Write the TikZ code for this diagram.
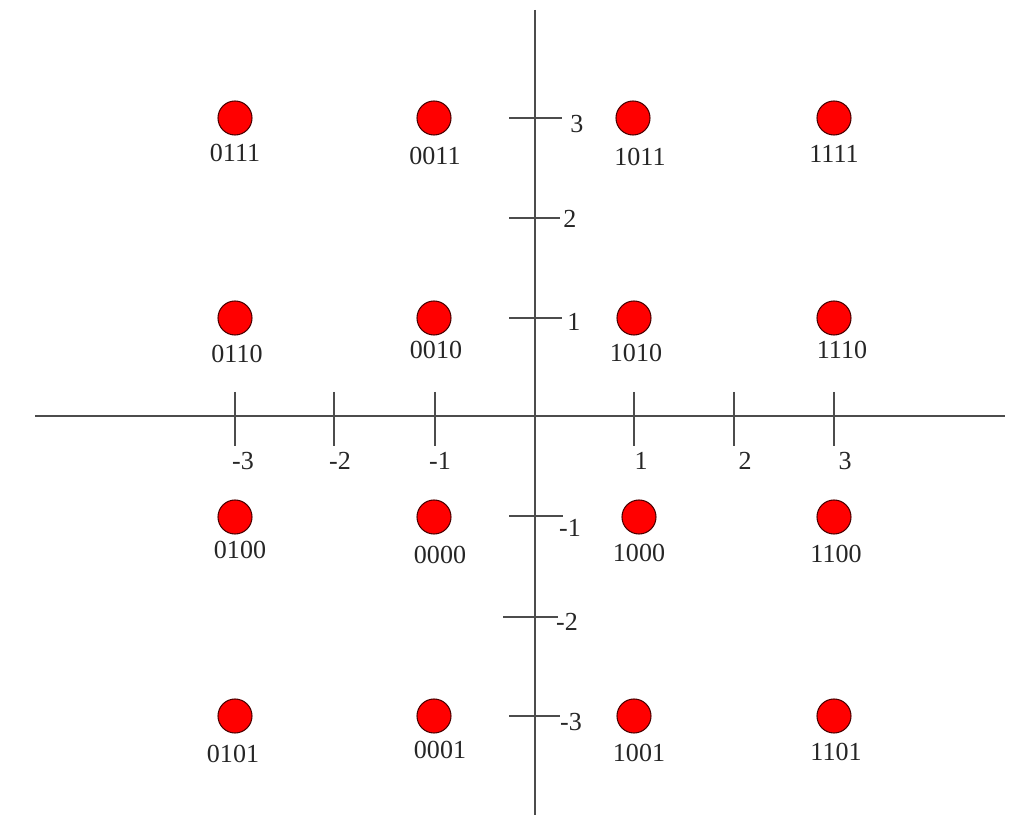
\documentclass[tikz,border=0pt]{standalone}
\usepackage{fontspec}
\setmainfont{Liberation Serif}
\begin{document}
\begin{tikzpicture}[x=0.01cm,y=-0.01cm,
  dot/.style={circle,fill=red,draw=black!70!red,line width=0.3pt,minimum size=0.34cm,inner sep=0pt},
  lbl/.style={inner sep=0pt,font=\fontsize{7.4}{9}\selectfont,text=black!85},
  axis/.style={draw=black!70,line width=0.55pt},
  tick/.style={draw=black!70,line width=0.45pt}]
\useasboundingbox[fill=white] (0,0) rectangle (1027,819);
% axes
\coordinate (xl) at (35,416);
\coordinate (xr) at (1005,416);
\coordinate (yt) at (535,10);
\coordinate (yb) at (535,815);
\draw[axis] (xl) -- (xr);
\draw[axis] (yt) -- (yb);
% x ticks
\foreach \x/\t/\lx in {235/-3/243,334/-2/340,435/-1/440,634/1/641,734/2/745,834/3/845}{
  \draw[tick] (\x,392) -- (\x,446);
  \node[lbl] at (\lx,461) {\t};
}
% y ticks
\foreach \y/\a/\b/\t/\lx/\ly in {118/509/562/3/577/124,218/509/560/2/570/219,318/509/562/1/574/322,516/509/563/-1/570/528,617/503/558/-2/567/622,716/509/560/-3/571/722}{
  \draw[tick] (\a,\y) -- (\b,\y);
  \node[lbl] at (\lx,\ly) {\t};
}
% constellation points
\foreach \n/\x/\y/\lx/\ly in {
  0111/235/118/235/153, 0011/434/118/435/156, 1011/633/118/640/157, 1111/834/118/834/154,
  0110/235/318/237/354, 0010/434/318/436/350, 1010/634/318/636/353, 1110/834/318/842/350,
  0100/235/517/240/550, 0000/434/517/440/555, 1000/639/517/639/553, 1100/834/517/836/554,
  0101/235/716/233/754, 0001/434/716/440/750, 1001/634/716/639/753, 1101/834/716/836/752}{
  \node[dot] (d\n) at (\x,\y) {};
  \node[lbl] (l\n) at (\lx,\ly) {\n};
}
\end{tikzpicture}
\end{document}
